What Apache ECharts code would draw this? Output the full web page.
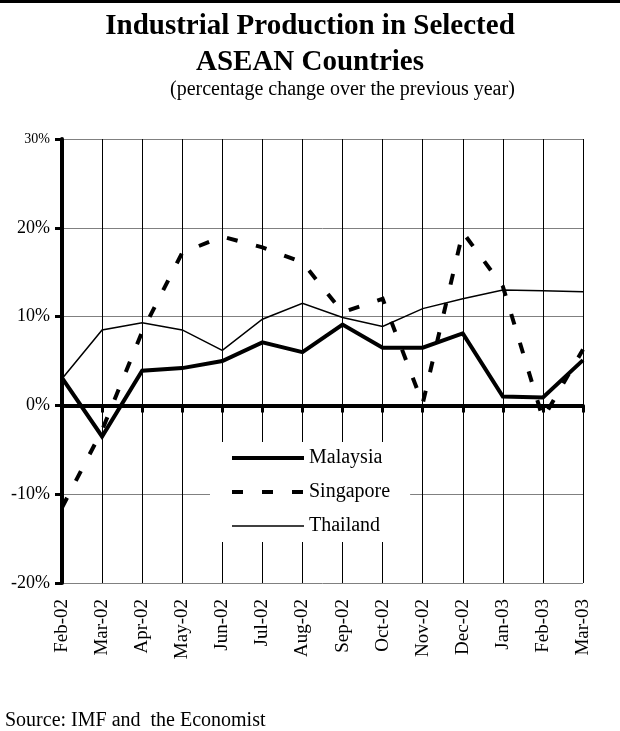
<!DOCTYPE html>
<html>
<head>
<meta charset="utf-8">
<title>Industrial Production in Selected ASEAN Countries</title>
<script src="https://cdn.jsdelivr.net/npm/echarts@6/dist/echarts.min.js"></script>
<style>
  html, body { margin: 0; padding: 0; background: #fff; }
  #chart { width: 620px; height: 731px; }
</style>
</head>
<body>
<div id="chart"></div>
<script>
const months = ['Feb-02', 'Mar-02', 'Apr-02', 'May-02', 'Jun-02', 'Jul-02', 'Aug-02',
  'Sep-02', 'Oct-02', 'Nov-02', 'Dec-02', 'Jan-03', 'Feb-03', 'Mar-03']

// % change over the previous year
const malaysia = [3.1, -3.5, 3.9, 4.2, 5.0, 7.1, 6.0, 9.1, 6.5, 6.5, 8.1, 1.0, 0.9, 5.1]
const singapore = [-11.5, -2.8, 8.3, 17.2, 19.0, 17.8, 16.1, 10.5, 12.0, 0.2, 19.5, 13.4, -1.5, 6.3]
const thailand = [3.0, 8.5, 9.3, 8.5, 6.2, 9.7, 11.5, 9.9, 8.9, 10.9, 12.0, 13.0, 12.9, 12.8]

const yMin = -20
const yMax = 30
const yStep = 10

const serif = '"Times New Roman", "Liberation Serif", serif'
const sgDash = [11, 19]

const chart = echarts.init(document.getElementById('chart'), null, { renderer: 'canvas' })

const option = {
  animation: false,
  backgroundColor: '#fff',
  textStyle: { fontFamily: serif, color: '#000' },
  title: {
    text: 'Industrial Production in Selected\nASEAN Countries',
    left: 'center',
    top: 4,
    textStyle: {
      fontFamily: serif,
      fontSize: 29,
      fontWeight: 'bold',
      color: '#000',
      lineHeight: 36
    }
  },
  graphic: [
    {
      type: 'rect',
      left: 0,
      top: 0,
      shape: { width: 620, height: 3 },
      style: { fill: '#000' }
    },
    {
      type: 'text',
      left: 170,
      top: 80,
      style: {
        text: '(percentage change over the previous year)',
        fontFamily: serif,
        fontSize: 20,
        fill: '#000'
      }
    },
    {
      type: 'text',
      left: 5,
      top: 711,
      style: {
        text: 'Source: IMF and  the Economist',
        fontFamily: serif,
        fontSize: 20,
        fill: '#000'
      }
    }
  ],
  legend: {
    orient: 'vertical',
    left: 210,
    top: 442,
    backgroundColor: '#fff',
    padding: [6, 20, 6, 20],
    itemWidth: 72,
    itemHeight: 20,
    itemGap: 14,
    itemStyle: { color: 'rgba(0,0,0,0)', borderWidth: 0 },
    textStyle: { fontFamily: serif, fontSize: 20, color: '#000', lineHeight: 20 },
    data: [
      { name: 'Malaysia', lineStyle: { width: 4, type: 'solid' } },
      { name: 'Singapore', lineStyle: { width: 4, type: sgDash } },
      { name: 'Thailand', lineStyle: { width: 1.5, type: 'solid' } }
    ]
  },
  grid: {
    left: 62,
    right: 37,
    top: 139,
    bottom: 148,
    containLabel: false
  },
  xAxis: [
    {
      type: 'category',
      data: months,
      boundaryGap: false,
      position: 'bottom',
      axisLine: { show: false, onZero: false },
      axisTick: { show: false },
      axisLabel: {
        rotate: 90,
        margin: 16,
        fontFamily: serif,
        fontSize: 19,
        color: '#000',
        interval: 0
      },
      splitLine: { show: true, lineStyle: { color: '#000', width: 1 } }
    },
    {
      type: 'category',
      data: months,
      boundaryGap: false,
      position: 'bottom',
      axisLine: { show: true, onZero: true, lineStyle: { color: '#000', width: 4 } },
      axisTick: { show: true, inside: false, length: 7, interval: 0, lineStyle: { color: '#000', width: 3 } },
      axisLabel: { show: false },
      splitLine: { show: false }
    }
  ],
  yAxis: {
    type: 'value',
    min: yMin,
    max: yMax,
    interval: yStep,
    axisLine: { show: true, lineStyle: { color: '#000', width: 4 } },
    axisTick: { show: true, inside: false, length: 7, lineStyle: { color: '#000', width: 3 } },
    axisLabel: {
      margin: 12,
      fontFamily: serif,
      fontSize: 18,
      color: '#000',
      formatter: v => v === yMax ? '{s|' + v + '%}' : v + '%',
      rich: { s: { fontFamily: serif, fontSize: 14, color: '#000' } }
    },
    splitLine: { show: true, lineStyle: { color: '#808080', width: 1 } }
  },
  series: [
    {
      name: 'Malaysia',
      type: 'line',
      data: malaysia,
      symbol: 'none',
      lineStyle: { color: '#000', width: 4, join: 'miter' },
      itemStyle: { color: '#000' },
      z: 4
    },
    {
      name: 'Singapore',
      type: 'line',
      data: singapore,
      symbol: 'none',
      lineStyle: { color: '#000', width: 4, type: sgDash, join: 'miter' },
      itemStyle: { color: '#000' },
      z: 3
    },
    {
      name: 'Thailand',
      type: 'line',
      data: thailand,
      symbol: 'none',
      lineStyle: { color: '#000', width: 1.5, join: 'miter' },
      itemStyle: { color: '#000' },
      z: 2
    }
  ]
}

chart.setOption(option)
</script>
</body>
</html>
